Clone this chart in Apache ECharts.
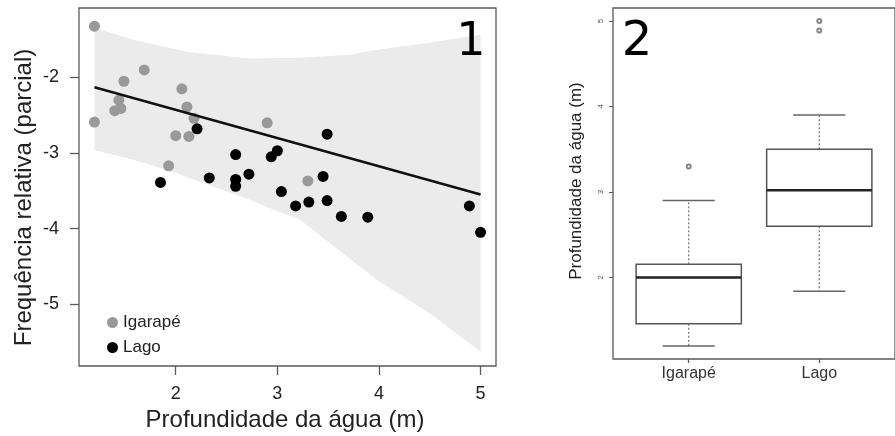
<!DOCTYPE html>
<html>
<head>
<meta charset="utf-8">
<script src="https://cdn.jsdelivr.net/npm/echarts@6/dist/echarts.min.js"></script>
<style>html,body{margin:0;padding:0;background:#fff}#c{width:895px;height:436px}</style>
</head>
<body>
<div id="c"></div>
<script>
// ---- Panel 1 data: partial relative frequency vs water depth ----
const depthTicks = [2, 3, 4, 5];
const freqTicks = [-2, -3, -4, -5];
const igarape = [[1.20,-1.32],[1.20,-2.59],[1.69,-1.90],[1.49,-2.05],[1.44,-2.30],[1.40,-2.44],[1.46,-2.41],[2.06,-2.15],[2.11,-2.39],[2.18,-2.54],[2.00,-2.77],[2.13,-2.78],[1.93,-3.17],[2.90,-2.60],[3.30,-3.37]];
const lago = [[2.21,-2.68],[1.85,-3.39],[2.33,-3.33],[2.59,-3.02],[2.59,-3.35],[2.59,-3.44],[2.72,-3.28],[2.94,-3.05],[3.00,-2.97],[3.04,-3.51],[3.18,-3.70],[3.49,-2.75],[3.45,-3.31],[3.31,-3.65],[3.49,-3.63],[4.89,-3.70],[3.63,-3.84],[3.89,-3.85],[5.00,-4.05]];
const fitX = [1.2, 5.0];
const fitY = [-2.13, -3.55];
const upperX = [1.2, 1.58, 2.11, 2.73, 3.22, 3.71, 4.0, 4.5, 5.0];
const upperY = [-1.34, -1.50, -1.66, -1.75, -1.74, -1.70, -1.63, -1.54, -1.43];
const lowerX = [1.2, 1.58, 1.91, 2.24, 2.73, 2.96, 3.22, 3.98, 4.5, 5.0];
const lowerY = [-2.96, -3.09, -3.22, -3.38, -3.62, -3.75, -3.88, -4.68, -5.12, -5.63];

// ---- Panel 2 data: boxplot of water depth by habitat ----
const habitats = ['Igarapé', 'Lago'];
const boxPos = [1, 2];
const boxMin = [1.20, 1.84];
const boxQ1 = [1.46, 2.60];
const boxMed = [2.00, 3.02];
const boxQ3 = [2.155, 3.50];
const boxMax = [2.90, 3.90];
const outliers = [[1, 3.30], [2, 5.00], [2, 4.89]];
const boxTicks = [2, 3, 4, 5];

const FONT = 'Liberation Sans';
const chart = echarts.init(document.getElementById('c'));

const fitData = fitX.map((x, i) => [x, fitY[i]]);
const boxData = boxPos.map((p, i) => [p, boxMin[i], boxQ1[i], boxMed[i], boxQ3[i], boxMax[i]]);

const option = {
  animation: false,
  backgroundColor: '#fff',
  grid: [
    {left: 79, top: 8, width: 417, height: 358, show: true, borderColor: '#5a5a5a', borderWidth: 1.3, backgroundColor: 'transparent'},
    {left: 613, top: 8, width: 290, height: 351, show: true, borderColor: '#5a5a5a', borderWidth: 1.3, backgroundColor: 'transparent'}
  ],
  xAxis: [
    {type: 'value', gridIndex: 0, min: 1.048, max: 5.152,
     axisLine: {show: false}, splitLine: {show: false},
     axisTick: {show: true, customValues: depthTicks, length: 9, lineStyle: {color: '#5a5a5a', width: 1.3}},
     axisLabel: {customValues: depthTicks, fontSize: 18, fontFamily: FONT, color: '#222', margin: 19}},
    {type: 'value', gridIndex: 1, min: 0.42, max: 2.58,
     axisLine: {show: false}, splitLine: {show: false},
     axisTick: {show: true, customValues: boxPos, length: 4, lineStyle: {color: '#5a5a5a', width: 1.3}},
     axisLabel: {customValues: boxPos, fontSize: 16, fontFamily: FONT, color: '#333', margin: 7,
                 formatter: v => habitats[boxPos.indexOf(v)] || ''}}
  ],
  yAxis: [
    {type: 'value', gridIndex: 0, min: -5.82, max: -1.08,
     axisLine: {show: false}, splitLine: {show: false},
     axisTick: {show: true, customValues: freqTicks, length: 9, lineStyle: {color: '#5a5a5a', width: 1.3}},
     axisLabel: {customValues: freqTicks, fontSize: 18, fontFamily: FONT, color: '#222', margin: 20}},
    {type: 'value', gridIndex: 1, min: 1.048, max: 5.152,
     axisLine: {show: false}, splitLine: {show: false},
     axisTick: {show: true, customValues: boxTicks, length: 4, lineStyle: {color: '#5a5a5a', width: 1}},
     axisLabel: {customValues: boxTicks, fontSize: 8, fontFamily: FONT, color: '#555', margin: 8, rotate: 90}}
  ],
  legend: {
    orient: 'vertical', left: 102, top: 309, itemWidth: 11, itemHeight: 11, itemGap: 8,
    icon: 'circle', textStyle: {fontSize: 17, fontFamily: FONT, color: '#222'},
    data: ['Igarapé', 'Lago']
  },
  series: [
    {type: 'custom', name: 'band', xAxisIndex: 0, yAxisIndex: 0, silent: true, data: [0],
     renderItem: (params, api) => {
       const pts = upperX.map((x, i) => api.coord([x, upperY[i]]));
       for (let i = lowerX.length - 1; i >= 0; i--) pts.push(api.coord([lowerX[i], lowerY[i]]));
       return {type: 'polygon', shape: {points: pts}, style: {fill: '#ebebeb'}};
     }},
    {type: 'line', name: 'fit', xAxisIndex: 0, yAxisIndex: 0, data: fitData, symbol: 'none', silent: true,
     lineStyle: {color: '#111', width: 2.6}},
    {type: 'scatter', name: 'Igarapé', xAxisIndex: 0, yAxisIndex: 0, data: igarape, symbolSize: 11,
     itemStyle: {color: '#999999', opacity: 1}},
    {type: 'scatter', name: 'Lago', xAxisIndex: 0, yAxisIndex: 0, data: lago, symbolSize: 11,
     itemStyle: {color: '#000000', opacity: 1}},
    {type: 'custom', name: 'box', xAxisIndex: 1, yAxisIndex: 1, data: boxData, silent: true,
     encode: {x: 0, y: [1, 2, 3, 4, 5]},
     renderItem: (params, api) => {
       const p = api.value(0);
       const lo = api.value(1), q1 = api.value(2), md = api.value(3), q3 = api.value(4), hi = api.value(5);
       const bw = 0.403, cw = 0.2;
       const a = api.coord([p - bw, q3]), b = api.coord([p + bw, q1]);
       const c = (x, y) => api.coord([x, y]);
       const dash = {stroke: '#555', lineWidth: 1, lineDash: [2, 2]};
       const solid = {stroke: '#666', lineWidth: 1.5};
       return {type: 'group', children: [
         {type: 'line', shape: {x1: c(p, q3)[0], y1: c(p, q3)[1], x2: c(p, hi)[0], y2: c(p, hi)[1]}, style: dash},
         {type: 'line', shape: {x1: c(p, q1)[0], y1: c(p, q1)[1], x2: c(p, lo)[0], y2: c(p, lo)[1]}, style: dash},
         {type: 'line', shape: {x1: c(p - cw, hi)[0], y1: c(p - cw, hi)[1], x2: c(p + cw, hi)[0], y2: c(p + cw, hi)[1]}, style: solid},
         {type: 'line', shape: {x1: c(p - cw, lo)[0], y1: c(p - cw, lo)[1], x2: c(p + cw, lo)[0], y2: c(p + cw, lo)[1]}, style: solid},
         {type: 'rect', shape: {x: a[0], y: a[1], width: b[0] - a[0], height: b[1] - a[1]}, style: {fill: '#fff', stroke: '#555', lineWidth: 1.5}},
         {type: 'line', shape: {x1: c(p - bw, md)[0], y1: c(p - bw, md)[1], x2: c(p + bw, md)[0], y2: c(p + bw, md)[1]}, style: {stroke: '#222', lineWidth: 2.5}}
       ]};
     }},
    {type: 'scatter', name: 'out', xAxisIndex: 1, yAxisIndex: 1, data: outliers, symbol: 'emptyCircle', symbolSize: 4,
     itemStyle: {color: '#666', borderWidth: 1}}
  ],
  graphic: [
    {type: 'text', z: 100, x: 285, y: 420, style: {text: 'Profundidade da água (m)', fontSize: 24, fontFamily: FONT, fill: '#222', textAlign: 'center', textVerticalAlign: 'middle'}},
    {type: 'text', z: 100, x: 24.5, y: 197.5, rotation: Math.PI / 2, style: {text: 'Frequência relativa (parcial)', fontSize: 24, fontFamily: FONT, fill: '#222', textAlign: 'center', textVerticalAlign: 'middle'}},
    {type: 'text', z: 100, x: 576, y: 181, rotation: Math.PI / 2, style: {text: 'Profundidade da água (m)', fontSize: 17, fontFamily: FONT, fill: '#222', textAlign: 'center', textVerticalAlign: 'middle'}},
    {type: 'text', z: 100, x: 471, y: 43.5, style: {text: '1', fontSize: 46, fontFamily: 'DejaVu Sans', fill: '#000', textAlign: 'center', textVerticalAlign: 'middle'}},
    {type: 'text', z: 100, x: 637, y: 43, style: {text: '2', fontSize: 48, fontFamily: 'DejaVu Sans', fill: '#000', textAlign: 'center', textVerticalAlign: 'middle'}}
  ]
};
chart.setOption(option);
</script>
</body>
</html>
